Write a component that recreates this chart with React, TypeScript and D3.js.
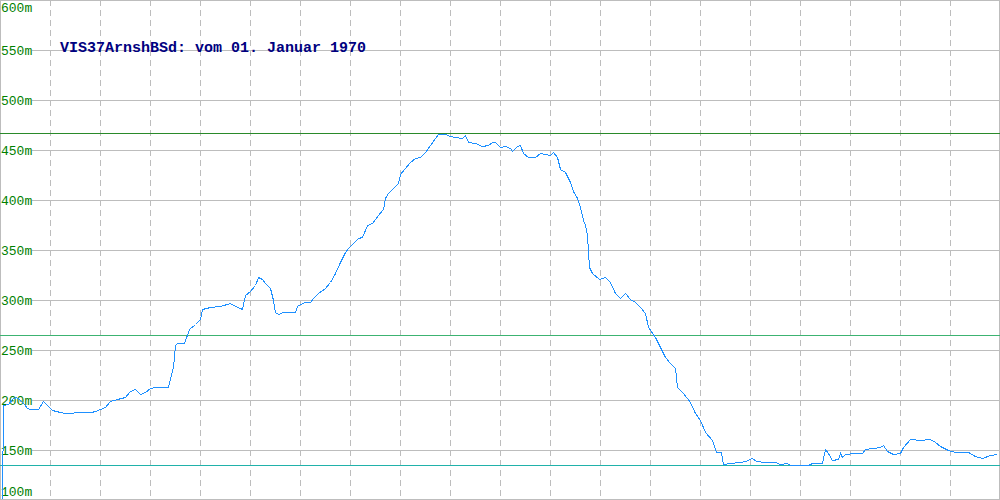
import React from "react";
import * as d3 from "d3";

const distances = [2, 3, 8, 12, 15, 18, 20, 24, 27, 30, 38, 40, 43, 47, 52, 60, 67, 75, 90, 95, 100, 105, 110, 117, 125, 130, 135, 140, 145, 150, 155, 168, 170, 173, 175, 177, 184, 189, 195, 200, 202, 210, 220, 230, 235, 240, 242, 245, 250, 255, 258, 262, 265, 270, 273, 275, 278, 283, 290, 295, 297, 300, 305, 310, 313, 318, 325, 330, 335, 340, 345, 348, 352, 358, 362, 367, 372, 378, 383, 385, 388, 393, 398, 400, 405, 410, 415, 420, 425, 430, 435, 438, 445, 450, 455, 462, 465, 468, 475, 482, 488, 492, 495, 500, 505, 510, 512, 517, 520, 523, 528, 535, 540, 545, 550, 553, 557, 560, 565, 570, 573, 577, 580, 583, 585, 587, 589, 592, 599, 605, 610, 615, 620, 625, 630, 635, 640, 645, 648, 655, 660, 665, 670, 675, 677, 683, 690, 695, 700, 705, 712, 716, 721, 723, 730, 740, 745, 752, 756, 765, 775, 780, 787, 790, 808, 812, 822, 825, 828, 832, 838, 840, 842, 845, 855, 862, 865, 873, 880, 883, 887, 893, 900, 903, 910, 920, 930, 935, 940, 948, 955, 968, 975, 982, 990, 997];
const elevations = [100, 195, 196, 201, 203, 202, 200, 196, 192, 191, 191, 194, 199, 195, 190, 188, 186.7, 187.7, 187.7, 189, 191, 193, 199, 201, 203, 209, 211, 206, 208, 212, 213, 213, 222, 233, 255, 257, 257, 271, 276, 281, 291, 293, 294, 297, 294, 292, 291, 305, 309, 315, 323, 321, 317, 312, 300, 288, 286, 288, 288, 288, 294, 296, 298, 298, 302, 307, 312, 318, 327, 338, 348, 352, 356, 362, 363, 375, 377, 385, 391, 402, 407, 412, 417, 426, 432, 438, 442, 443, 448, 455, 462, 466, 466, 464, 463, 462, 465, 458, 457, 454, 455, 458, 458, 453, 454, 452, 449, 454, 455, 447, 443, 443, 447, 446, 445, 448, 443, 431, 428, 418, 409, 402, 393, 380, 375, 365, 333, 327, 321, 323, 318, 307, 302, 307, 301, 298, 293, 287, 273, 263, 253, 243, 237, 232, 213, 207, 198, 187, 180, 168, 160, 148, 148, 136, 137, 138, 139, 142, 139, 138, 138, 136, 137, 135, 135, 137, 137, 151, 147, 140, 141, 147, 143, 146, 147, 147, 151, 152, 153, 155, 149, 146, 147, 153, 161, 160, 161, 158, 154, 150, 148, 148, 144, 142, 145, 146];

const yTicks = [600, 550, 500, 450, 400, 350, 300, 250, 200, 150, 100];
const xTicks = [50, 100, 150, 200, 250, 300, 350, 400, 450, 500, 550, 600, 650, 700, 750, 800, 850, 900, 950];
const refValues = [467, 265, 135];
const refColors = ["#2a8a2a", "#3cb371", "#20b2aa"];
const title = "VIS37ArnshBSd: vom 01. Januar 1970";

const W = 1000;
const H = 500;

export default function App() {
  const x = d3.scaleLinear().domain([0, 1000]).range([0, W]);
  const y = d3.scaleLinear().domain([100, 600]).range([H, 0]);
  const data = distances.map((d, i) => ({ d, e: elevations[i] }));
  const line = d3
    .line<{ d: number; e: number }>()
    .x((p) => x(p.d) + 0.5)
    .y((p) => Math.min(y(p.e), H - 1) + 0.5);
  const py = (v: number) => Math.min(Math.round(y(v)), H - 1) + 0.5;

  return (
    <svg
      width={W}
      height={H}
      style={{ position: "absolute", left: 0, top: 0, background: "#fff" }}
    >
      <rect x={0} y={0} width={W} height={H} fill="#fff" />
      {xTicks.map((t) => (
        <line
          key={"v" + t}
          x1={Math.round(x(t)) + 0.5}
          x2={Math.round(x(t)) + 0.5}
          y1={0}
          y2={H}
          stroke="#bdbdbd"
          strokeDasharray="6,4"
          shapeRendering="crispEdges"
        />
      ))}
      {yTicks.slice(1, -1).map((t) => (
        <line
          key={"h" + t}
          x1={0}
          x2={W}
          y1={py(t)}
          y2={py(t)}
          stroke="#bdbdbd"
          shapeRendering="crispEdges"
        />
      ))}
      <rect
        x={0.5}
        y={0.5}
        width={W - 1}
        height={H - 1}
        fill="none"
        stroke="#bdbdbd"
        shapeRendering="crispEdges"
      />
      {refValues.map((v, i) => (
        <line
          key={"r" + v}
          x1={0}
          x2={W}
          y1={py(v)}
          y2={py(v)}
          stroke={refColors[i]}
          shapeRendering="crispEdges"
        />
      ))}
      {yTicks.map((t) => {
        const base = Math.min(Math.max(Math.round(y(t)) + 5, 12), H - 4);
        return (
          <g key={"l" + t}>
            <rect x={1} y={base - 11} width={31} height={13} fill="#fff" />
            <text
              x={1}
              y={base}
              fill="#008000"
              fontFamily="'Liberation Mono', 'DejaVu Sans Mono', monospace"
              fontSize={13}
            >
              {t}m
            </text>
          </g>
        );
      })}
      <text
        x={60}
        y={52}
        fill="#000080"
        fontFamily="'Liberation Mono', 'DejaVu Sans Mono', monospace"
        fontWeight="bold"
        fontSize={15}
      >
        {title}
      </text>
      <path
        d={line(data) || ""}
        fill="none"
        stroke="#1e90ff"
        strokeWidth={1}
        shapeRendering="crispEdges"
      />
    </svg>
  );
}
